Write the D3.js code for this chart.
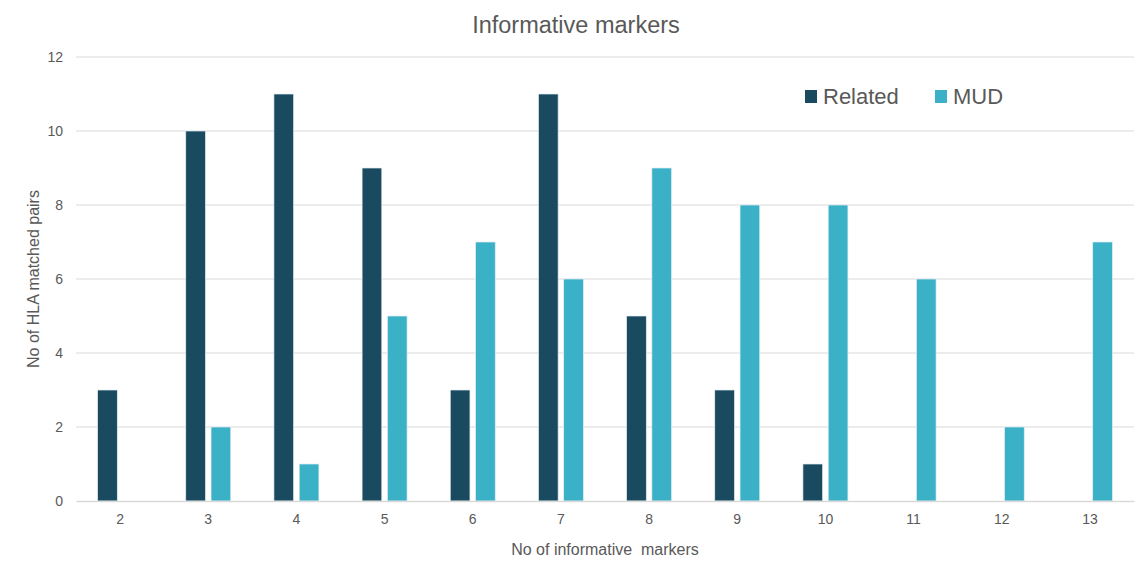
<!DOCTYPE html>
<html lang="en">
<head>
    <meta charset="UTF-8">
    <title>Informative markers</title>
    <script src="https://d3js.org/d3.v7.min.js"></script>
    <style>
        body { margin: 0; background: #fff; }
        text { font-family: "Liberation Sans", Arial, sans-serif; fill: #595959; }
    </style>
</head>
<body>
<div id="chart"></div>
<script>
    var width = 1145, height = 571;
    var margin = {top: 57, right: 11, bottom: 70, left: 76};

    // data
    var categories = ["2", "3", "4", "5", "6", "7", "8", "9", "10", "11", "12", "13"];
    var seriesNames = ["Related", "MUD"];
    var related = [3, 10, 11, 9, 3, 11, 5, 3, 1, 0, 0, 0];
    var mud = [0, 2, 1, 5, 7, 6, 9, 8, 8, 6, 2, 7];
    var yTicks = [0, 2, 4, 6, 8, 10, 12];
    var colors = ["#1a4a5f", "#3ab1c6"];

    var rows = categories.map(function(c, i) { return {cat: c, values: [related[i], mud[i]]}; });

    var svg = d3.select("#chart").append("svg")
        .attr("width", width).attr("height", height);

    var x = d3.scaleBand().domain(categories)
        .range([margin.left, width - margin.right]);
    var xInner = d3.scaleBand().domain(seriesNames)
        .range([0, 45]).paddingInner(0.22);
    var y = d3.scaleLinear().domain([0, 12])
        .range([height - margin.bottom, margin.top]);

    // grid lines
    svg.append("g").selectAll("line")
        .data(yTicks.filter(function(d) { return d > 0; }))
        .enter().append("line")
        .attr("x1", margin.left).attr("x2", width - margin.right)
        .attr("y1", function(d) { return y(d); }).attr("y2", function(d) { return y(d); })
        .attr("stroke", "#d9d9d9").attr("stroke-width", 1);

    // y axis labels
    var yAxis = svg.append("g")
        .attr("transform", "translate(" + margin.left + ",0)")
        .call(d3.axisLeft(y).tickValues(yTicks).tickSize(0).tickPadding(13));
    yAxis.select(".domain").remove();
    yAxis.selectAll("text").style("font-size", "14px").attr("fill", "#595959");

    // bars
    var groups = svg.append("g").selectAll("g")
        .data(rows).enter().append("g")
        .attr("transform", function(d) { return "translate(" + (x(d.cat) + (x.bandwidth() - 45) / 2) + ",0)"; });

    groups.selectAll("rect")
        .data(function(d) { return d.values.map(function(v, i) { return {name: seriesNames[i], v: v, i: i}; }).filter(function(e) { return e.v > 0; }); })
        .enter().append("rect")
        .attr("x", function(d) { return xInner(d.name); })
        .attr("width", xInner.bandwidth())
        .attr("y", function(d) { return y(d.v); })
        .attr("height", function(d) { return y(0) - y(d.v); })
        .attr("fill", function(d) { return colors[d.i]; })
        .attr("stroke", "#e6eef2").attr("stroke-width", 0.7);

    // x axis
    var xAxis = svg.append("g")
        .attr("transform", "translate(0," + y(0) + ")")
        .call(d3.axisBottom(x).tickSize(0).tickPadding(13));
    xAxis.select(".domain").attr("stroke", "#d9d9d9").attr("stroke-width", 1.5);
    xAxis.selectAll("text").style("font-size", "14px").attr("fill", "#595959");

    // title and axis titles
    svg.append("text").attr("x", 576).attr("y", 33).attr("text-anchor", "middle")
        .style("font-size", "23.5px").text("Informative markers");
    svg.append("text").attr("x", (margin.left + width - margin.right) / 2).attr("y", 555)
        .attr("text-anchor", "middle").attr("xml:space", "preserve")
        .style("font-size", "16px").style("white-space", "pre").text("No of informative  markers");
    svg.append("text").attr("transform", "translate(39," + ((margin.top + height - margin.bottom) / 2) + ") rotate(-90)")
        .attr("text-anchor", "middle").style("font-size", "16px").text("No of HLA matched pairs");

    // legend
    var legendX = [805, 935];
    seriesNames.forEach(function(n, i) {
        svg.append("rect").attr("x", legendX[i]).attr("y", 90).attr("width", 12).attr("height", 13)
            .attr("fill", colors[i]);
        svg.append("text").attr("x", legendX[i] + 18).attr("y", 104)
            .style("font-size", "22px").text(n);
    });
</script>
</body>
</html>
